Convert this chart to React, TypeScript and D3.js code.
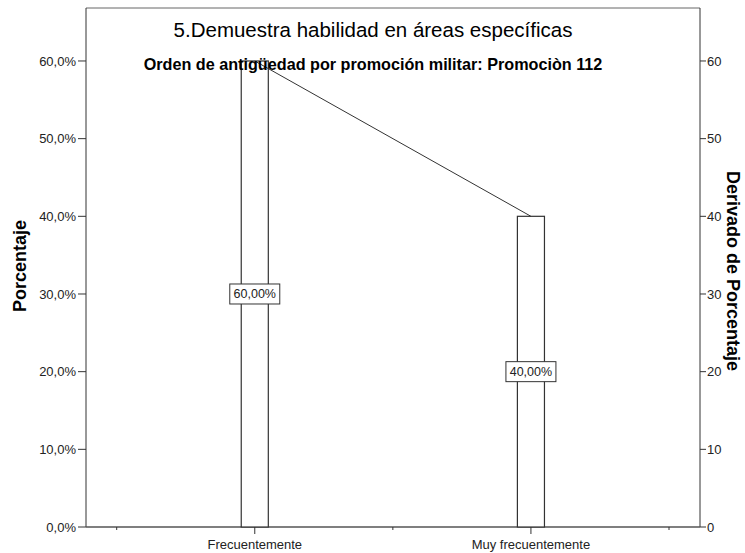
import React from "react";
import * as d3 from "d3";

const categories = ["Frecuentemente", "Muy frecuentemente"];
const percentValues = [60, 40];
const derivedValues = [60, 40];
const leftTicks = [0, 10, 20, 30, 40, 50, 60];
const rightTicks = [0, 10, 20, 30, 40, 50, 60];
const titleText = "5.Demuestra habilidad en áreas específicas";
const subtitleText = "Orden de antigüedad por promoción militar: Promociòn 112";
const leftAxisTitle = "Porcentaje";
const rightAxisTitle = "Derivado de Porcentaje";

const W = 745;
const H = 553;
const plotLeft = 86;
const plotRight = 700;
const plotTop = 8;
const plotBottom = 527;

export default function App() {
  const y = d3.scaleLinear().domain([0, 66.82]).range([plotBottom, plotTop]);
  const x = d3.scaleBand<string>().domain(categories).range([116.7, 669]).padding(0);
  const bw = x.bandwidth() * 0.098;
  const fmtTick = (v: number) => v.toFixed(1).replace(".", ",") + "%";
  const fmtLabel = (v: number) => v.toFixed(2).replace(".", ",") + "%";
  const center = (c: string) => (x(c) as number) + x.bandwidth() / 2;
  const lineGen = d3
    .line<number>()
    .x((_, i) => center(categories[i]))
    .y((d) => y(d));
  const edges = [...categories.map((c) => x(c) as number), (x(categories[categories.length - 1]) as number) + x.bandwidth()];
  const font = "Arial, 'Liberation Sans', sans-serif";
  const stroke = "#333";

  return (
    <svg width={W} height={H} style={{ position: "absolute", left: 0, top: 0, background: "#fff" }} fontFamily={font}>
      <rect x={0} y={0} width={W} height={H} fill="#fff" />
      {/* frame */}
      <line x1={plotLeft} x2={plotRight} y1={plotTop} y2={plotTop} stroke="#666" strokeWidth={1} />
      <line x1={plotRight} x2={plotRight} y1={plotTop} y2={plotBottom} stroke={stroke} strokeWidth={1} />
      <line x1={plotLeft} x2={plotLeft} y1={plotTop} y2={plotBottom} stroke={stroke} strokeWidth={1} />
      <line x1={plotLeft} x2={plotRight} y1={plotBottom} y2={plotBottom} stroke="#555" strokeWidth={1.5} />

      {/* left axis ticks */}
      {leftTicks.map((t) => (
        <g key={"l" + t}>
          <line x1={plotLeft - 8} x2={plotLeft} y1={y(t)} y2={y(t)} stroke={stroke} />
          <text x={plotLeft - 10} y={y(t)} dy="0.35em" textAnchor="end" fontSize={13} fill="#222">
            {fmtTick(t)}
          </text>
        </g>
      ))}
      {/* right axis ticks */}
      {rightTicks.map((t) => (
        <g key={"r" + t}>
          <line x1={plotRight} x2={plotRight + 6} y1={y(t)} y2={y(t)} stroke={stroke} />
          <text x={plotRight + 7} y={y(t)} dy="0.35em" textAnchor="start" fontSize={13} fill="#222">
            {t}
          </text>
        </g>
      ))}

      {/* x axis ticks */}
      {edges.map((e, i) => (
        <line key={"e" + i} x1={e} x2={e} y1={plotBottom} y2={plotBottom + 3} stroke={stroke} />
      ))}
      {categories.map((c) => (
        <g key={"c" + c}>
          <line x1={center(c)} x2={center(c)} y1={plotBottom} y2={plotBottom + 7} stroke={stroke} />
          <text x={center(c)} y={549} textAnchor="middle" fontSize={13} fill="#222">
            {c}
          </text>
        </g>
      ))}

      {/* bars */}
      {categories.map((c, i) => (
        <rect
          key={"b" + c}
          x={center(c) - bw / 2}
          y={y(percentValues[i])}
          width={bw}
          height={plotBottom - y(percentValues[i])}
          fill="#fff"
          stroke={stroke}
          strokeWidth={1.2}
        />
      ))}

      {/* line */}
      <path d={lineGen(derivedValues) || ""} fill="none" stroke={stroke} strokeWidth={1} />

      {/* labels */}
      {categories.map((c, i) => {
        const cy = y(percentValues[i] / 2);
        return (
          <g key={"lab" + c}>
            <rect x={center(c) - 25} y={cy - 10} width={50} height={20} fill="#fff" stroke={stroke} strokeWidth={1} />
            <text x={center(c)} y={cy} dy="0.35em" textAnchor="middle" fontSize={12.5} fill="#222">
              {fmtLabel(percentValues[i])}
            </text>
          </g>
        );
      })}

      {/* titles */}
      <text x={373} y={37} textAnchor="middle" fontSize={20.5} fill="#000">
        {titleText}
      </text>
      <text x={373} y={70} textAnchor="middle" fontSize={16.2} fontWeight="bold" fill="#000">
        {subtitleText}
      </text>

      <text transform={`translate(26,266) rotate(-90)`} textAnchor="middle" fontSize={18} fontWeight="bold" fill="#000">
        {leftAxisTitle}
      </text>
      <text transform={`translate(727,271) rotate(90)`} textAnchor="middle" fontSize={18} fontWeight="bold" fill="#000">
        {rightAxisTitle}
      </text>
    </svg>
  );
}
